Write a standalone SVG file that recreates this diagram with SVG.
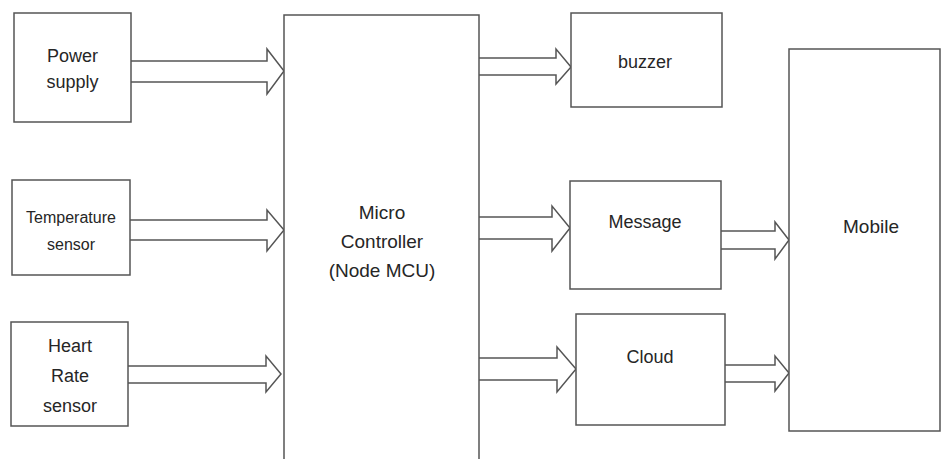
<svg xmlns="http://www.w3.org/2000/svg" width="941" height="459" viewBox="0 0 941 459">
<style>
.box{fill:#fff;stroke:#555;stroke-width:1.5}
.arr{fill:#fff;stroke:#555;stroke-width:1.5;stroke-linejoin:miter}
text{font-family:"Liberation Sans",Arial,sans-serif;fill:#262626;text-anchor:middle}
.t18{font-size:18px}
.t19{font-size:19px}
.t16{font-size:16px}
</style>
<rect width="941" height="459" fill="#fff"/>
<g id="connectors">
<path class="arr" d="M131,61 H267 V49 L284,71 L267,94 V82 H131"/>
<path class="arr" d="M130,220 H267 V210 L284,230 L267,251 V240 H130"/>
<path class="arr" d="M128,366 H266 V356 L281,374 L266,392 V383 H128"/>
<path class="arr" d="M479,58 H556 V49 L571,67 L556,84 V75 H479"/>
<path class="arr" d="M479,217 H552 V206 L570,228 L552,251 V239 H479"/>
<path class="arr" d="M479,358 H557 V347 L576,369 L557,392 V380 H479"/>
<path class="arr" d="M721,231 H775 V222 L789,240 L775,259 V249 H721"/>
<path class="arr" d="M725,365 H775 V356 L789,373 L775,391 V382 H725"/>
</g>
<g id="power">
<rect class="box" x="14" y="13" width="117" height="109"/>
<text class="t18" x="72.5" y="62">Power</text>
<text class="t18" x="72.5" y="88">supply</text>
</g>
<g id="temperature">
<rect class="box" x="12" y="180" width="118" height="95"/>
<text class="t16" x="71" y="223">Temperature</text>
<text class="t16" x="71" y="250">sensor</text>
</g>
<g id="heart">
<rect class="box" x="11" y="322" width="117" height="104"/>
<text class="t18" x="70" y="352">Heart</text>
<text class="t18" x="70" y="382">Rate</text>
<text class="t18" x="70" y="412">sensor</text>
</g>
<g id="mcu">
<rect class="box" x="284" y="15" width="195" height="460"/>
<text class="t19" x="382" y="219">Micro</text>
<text class="t19" x="382" y="248">Controller</text>
<text class="t19" x="382" y="277">(Node MCU)</text>
</g>
<g id="buzzer">
<rect class="box" x="571" y="13" width="151" height="94"/>
<text class="t18" x="645" y="68">buzzer</text>
</g>
<g id="message">
<rect class="box" x="570" y="181" width="151" height="108"/>
<text class="t18" x="645" y="228">Message</text>
</g>
<g id="cloud">
<rect class="box" x="576" y="314" width="149" height="111"/>
<text class="t18" x="650" y="363">Cloud</text>
</g>
<g id="mobile">
<rect class="box" x="789" y="49" width="151" height="382"/>
<text class="t19" x="871" y="233">Mobile</text>
</g>
</svg>
